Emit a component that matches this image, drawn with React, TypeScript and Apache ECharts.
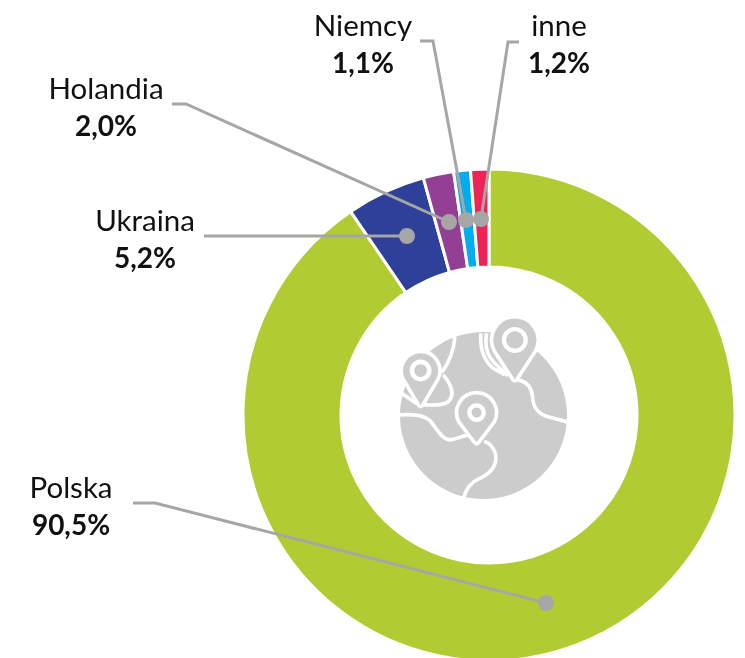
import React, { useEffect, useRef } from "react";
import * as echarts from "echarts";

const categories = ["Polska", "Ukraina", "Holandia", "Niemcy", "inne"];
const values = [90.5, 5.2, 2.0, 1.1, 1.2];
const valueLabels = ["90,5%", "5,2%", "2,0%", "1,1%", "1,2%"];
const colors = ["#B1CC33", "#2E4099", "#943F96", "#00AEEF", "#EE2356"];

const labelCenters = [[71, 505], [145, 238], [106, 106], [363, 43], [559, 43]];
const leaders = [
  [[133, 503], [155, 503], [546, 603]],
  [[204, 236], [407, 236]],
  [[172, 104], [186, 104], [449, 222]],
  [[420, 41], [433, 41], [466, 220]],
  [[519, 42], [508, 42], [481, 219]],
];

const COAST =
  "M60 345 C100 343 130 345 150 362 C170 385 185 418 210 420 C230 420 245 405 272 405 " +
  "M312 425 C335 430 350 455 348 480 C345 505 325 525 295 538 C270 548 258 570 250 596 " +
  "M415 240 C440 245 455 262 458 290 C460 330 480 345 510 352 L562 366 " +
  "M320 100 C315 130 318 165 345 190 L385 228 " +
  "M303 100 C300 140 310 180 340 205 L375 225 " +
  "M225 110 C222 150 210 185 185 218 " +
  "M190 225 C215 255 225 285 205 305 C190 318 160 315 128 315 " +
  "M65 280 L112 312";
const PIN = (cx: number, cy: number, r: number, tip: number) => {
  const dx = r * 0.88;
  const dy = r * 0.48;
  return (
    `M${cx - 6} ${tip - 6} L${cx - dx} ${cy + dy} ` +
    `A${r} ${r} 0 1 1 ${cx + dx} ${cy + dy} L${cx + 6} ${tip - 6} Q${cx} ${tip + 2} ${cx - 6} ${tip - 6} Z`
  );
};

echarts.graphic.registerShape("coast", echarts.graphic.extendPath(COAST, {}) as any);
echarts.graphic.registerShape("pinA", echarts.graphic.extendPath(PIN(405, 120, 70, 245), {}) as any);
echarts.graphic.registerShape("pinB", echarts.graphic.extendPath(PIN(122, 212, 58, 322), {}) as any);
echarts.graphic.registerShape("pinC", echarts.graphic.extendPath(PIN(290, 338, 60, 434), {}) as any);

const GREY = "#CCCCCC";
const FONT = "Lato, Carlito, sans-serif";

function ring(cx: number, cy: number, outer: number, inner: number) {
  return [
    { type: "circle", shape: { cx, cy, r: outer }, style: { fill: "#fff" } },
    { type: "circle", shape: { cx, cy, r: inner }, style: { fill: GREY } },
  ];
}

export default function App() {
  const ref = useRef<HTMLDivElement>(null);
  useEffect(() => {
    const chart = echarts.init(ref.current!, undefined, { renderer: "svg" });
    const pinStyle = { fill: GREY, stroke: "#fff", lineWidth: 11, lineJoin: "round" };
    chart.setOption({
      animation: false,
      series: [
        {
          type: "pie",
          center: [489, 415],
          radius: [148, 246],
          startAngle: 90,
          clockwise: true,
          avoidLabelOverlap: false,
          silent: true,
          itemStyle: { borderColor: "#fff", borderWidth: 3 },
          data: categories.map((name, i) => ({
            name,
            value: values[i],
            itemStyle: { color: colors[i] },
            label: { formatter: `{n|${name}}\n{v|${valueLabels[i]}}` },
          })),
          labelLine: { show: false },
          label: {
            show: true,
            position: "outside",
            align: "center",
            verticalAlign: "middle",
            rich: {
              n: { fontFamily: FONT, fontSize: 29.5, lineHeight: 38, color: "#111", align: "center" },
              v: { fontFamily: FONT, fontSize: 28, lineHeight: 38, fontWeight: "bold", color: "#111", align: "center" },
            },
          },
          labelLayout: (p: any) => ({
            x: labelCenters[p.dataIndex][0],
            y: labelCenters[p.dataIndex][1],
            align: "center",
            verticalAlign: "middle",
          }),
        },
      ],
      graphic: [
        {
          type: "group",
          silent: true,
          z: 5,
          children: [
            { type: "circle", shape: { cx: 483.5, cy: 415.5, r: 83.5 }, style: { fill: GREY } },
            {
              type: "group",
              x: 380,
              y: 300,
              scaleX: 1 / 3,
              scaleY: 1 / 3,
              children: [
                { type: "coast", style: { fill: "none", stroke: "#fff", lineWidth: 11 } },
                { type: "pinA", style: pinStyle },
                { type: "pinB", style: pinStyle },
                { type: "pinC", style: pinStyle },
                ...ring(405, 120, 39, 26),
                ...ring(122, 212, 33, 19),
                ...ring(290, 338, 28, 15),
              ],
            },
          ],
        },
        ...leaders.flatMap((pts) => [
          {
            type: "polyline",
            z: 10,
            silent: true,
            shape: { points: pts },
            style: { fill: "none", stroke: "#A6A6A6", lineWidth: 3 },
          },
          {
            type: "circle",
            z: 10,
            silent: true,
            shape: { cx: pts[pts.length - 1][0], cy: pts[pts.length - 1][1], r: 8 },
            style: { fill: "#A6A6A6" },
          },
        ]),
      ],
    });
    return () => chart.dispose();
  }, []);
  return <div ref={ref} style={{ position: "fixed", left: 0, top: 0, width: 745, height: 658 }} />;
}
